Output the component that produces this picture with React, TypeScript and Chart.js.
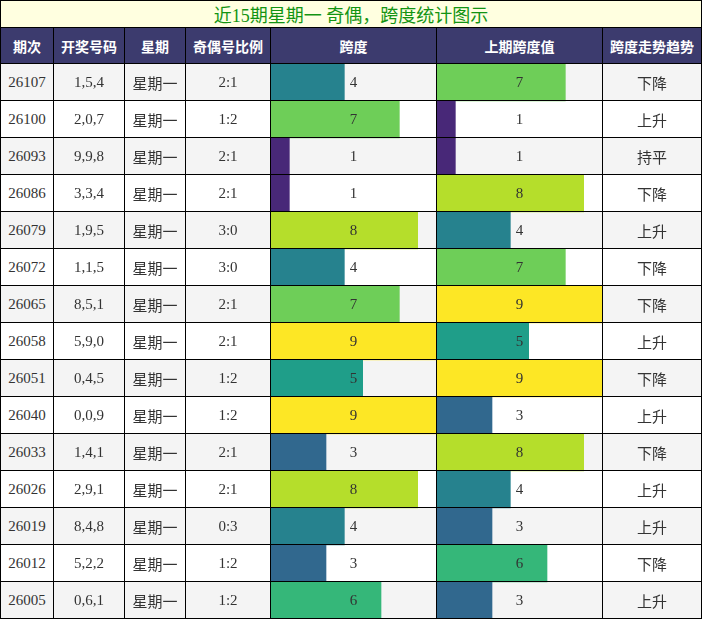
import React, { useEffect, useRef } from "react";
import { Chart, registerables } from "chart.js";

Chart.register(...registerables);

const title = "近15期星期一 奇偶，跨度统计图示";
const headers = ["期次", "开奖号码", "星期", "奇偶号比例", "跨度", "上期跨度值", "跨度走势趋势"];
const issues = ["26107", "26100", "26093", "26086", "26079", "26072", "26065", "26058", "26051", "26040", "26033", "26026", "26019", "26012", "26005"];
const numbers = ["1,5,4", "2,0,7", "9,9,8", "3,3,4", "1,9,5", "1,1,5", "8,5,1", "5,9,0", "0,4,5", "0,0,9", "1,4,1", "2,9,1", "8,4,8", "5,2,2", "0,6,1"];
const weekdays = ["星期一", "星期一", "星期一", "星期一", "星期一", "星期一", "星期一", "星期一", "星期一", "星期一", "星期一", "星期一", "星期一", "星期一", "星期一"];
const oddEven = ["2:1", "1:2", "2:1", "2:1", "3:0", "3:0", "2:1", "2:1", "1:2", "1:2", "2:1", "2:1", "0:3", "1:2", "1:2"];
const spans = [4, 7, 1, 1, 8, 4, 7, 9, 5, 9, 3, 8, 4, 3, 6];
const prevSpans = [7, 1, 1, 8, 4, 7, 9, 5, 9, 3, 8, 4, 3, 6, 3];
const trends = ["下降", "上升", "持平", "下降", "上升", "下降", "下降", "上升", "下降", "上升", "下降", "上升", "上升", "下降", "上升"];
const spanMax = 9;

// styles
const PALETTE = ["#440154", "#482878", "#3e4a89", "#31688e", "#26828e", "#1f9e89", "#35b779", "#6ece58", "#b5de2b", "#fde725"];
const COL_EDGES = [0, 54, 125, 186, 271, 437, 603, 702];
const TITLE_H = 28;
const HEADER_H = 36;
const ROW_H = 37;
const LINE = "#000";
const STRIPE = "#f4f4f4";
const HEADER_BG = "#3c3b6e";
const TITLE_BG = "#ffffe0";
const TEXT = "#333";
const FONT = '"Liberation Serif", "Noto Sans CJK SC", serif';
const HEADER_FONT = '"Noto Sans CJK SC", "Noto Sans", sans-serif';

function BarColumn({ values }: { values: number[] }) {
  const ref = useRef<HTMLCanvasElement | null>(null);
  useEffect(() => {
    if (!ref.current) return;
    const stripePlugin = {
      id: "stripes",
      beforeDatasetsDraw(chart: any) {
        const { ctx, chartArea } = chart;
        const meta = chart.getDatasetMeta(0);
        ctx.save();
        meta.data.forEach((bar: any, i: number) => {
          const h = bar.height;
          ctx.fillStyle = i % 2 === 0 ? STRIPE : "#ffffff";
          ctx.fillRect(chartArea.left, bar.y - h / 2, chartArea.right - chartArea.left, h);
        });
        ctx.restore();
      },
    };
    const labelPlugin = {
      id: "valueLabels",
      afterDatasetsDraw(chart: any) {
        const { ctx, chartArea } = chart;
        const meta = chart.getDatasetMeta(0);
        const ds = chart.data.datasets[0].data as number[];
        ctx.save();
        ctx.font = `15px ${FONT}`;
        ctx.fillStyle = TEXT;
        ctx.textAlign = "center";
        ctx.textBaseline = "middle";
        meta.data.forEach((bar: any, i: number) => {
          ctx.fillText(String(ds[i]), (chartArea.left + chartArea.right) / 2, bar.y + 1);
        });
        ctx.restore();
      },
    };
    const chart = new Chart(ref.current, {
      type: "bar",
      data: {
        labels: issues,
        datasets: [
          {
            data: values,
            backgroundColor: values.map((v) => PALETTE[v]),
            borderWidth: 0,
            categoryPercentage: 1,
            barPercentage: 1,
          },
        ],
      },
      options: {
        indexAxis: "y",
        animation: false,
        responsive: false,
        maintainAspectRatio: false,
        events: [],
        layout: { padding: 0 },
        plugins: { legend: { display: false }, tooltip: { enabled: false } },
        scales: {
          x: { display: false, min: 0, max: spanMax },
          y: { display: false },
        },
      },
      plugins: [stripePlugin, labelPlugin],
    } as any);
    return () => chart.destroy();
  }, [values]);
  const w = 0;
  return <canvas ref={ref} width={165} height={issues.length * ROW_H} style={{ display: "block" }} />;
}

export default function App() {
  const total = TITLE_H + HEADER_H + ROW_H * issues.length;
  const cells: React.ReactNode[] = [];
  const textCols = [issues, numbers, weekdays, oddEven];
  const bodyTop = TITLE_H + HEADER_H;

  const cellStyle = (c: number, top: number, h: number): React.CSSProperties => ({
    position: "absolute",
    left: COL_EDGES[c],
    top,
    width: COL_EDGES[c + 1] - COL_EDGES[c],
    height: h,
    boxSizing: "border-box",
    borderRight: `1px solid ${LINE}`,
    borderBottom: `1px solid ${LINE}`,
    borderLeft: c === 0 ? `1px solid ${LINE}` : undefined,
    display: "flex",
    alignItems: "center",
    justifyContent: "center",
    zIndex: 2,
  });

  headers.forEach((h, c) => {
    cells.push(
      <div
        key={`h${c}`}
        style={{
          ...cellStyle(c, TITLE_H, HEADER_H),
          background: HEADER_BG,
          color: "#fff",
          fontWeight: "bold",
          fontSize: 14,
          fontFamily: HEADER_FONT,
        }}
      >
        {h}
      </div>
    );
  });

  issues.forEach((_, r) => {
    const top = bodyTop + r * ROW_H;
    const bg = r % 2 === 0 ? STRIPE : "#ffffff";
    for (let c = 0; c < 7; c++) {
      let content: string = "";
      let background: string = bg;
      if (c < 4) content = textCols[c][r];
      else if (c === 6) content = trends[r];
      else background = "transparent";
      cells.push(
        <div
          key={`r${r}c${c}`}
          style={{
            ...cellStyle(c, top, ROW_H),
            background,
            color: TEXT,
            fontSize: 15,
            fontFamily: FONT,
            paddingTop: 1,
          }}
        >
          {content}
        </div>
      );
    }
  });

  return (
    <div
      style={{
        position: "fixed",
        left: 0,
        top: 0,
        width: 702,
        height: total,
        background: "#fff",
        overflow: "hidden",
      }}
    >
      <div
        style={{
          position: "absolute",
          left: 0,
          top: 0,
          width: 702,
          height: TITLE_H,
          boxSizing: "border-box",
          border: `1px solid ${LINE}`,
          background: TITLE_BG,
          color: "#129412",
          fontSize: 18,
          fontFamily: FONT,
          display: "flex",
          alignItems: "center",
          justifyContent: "center",
          zIndex: 2,
        }}
      >
        {title}
      </div>
      {cells}
      <div style={{ position: "absolute", left: COL_EDGES[4], top: bodyTop, zIndex: 1 }}>
        <BarColumn values={spans} />
      </div>
      <div style={{ position: "absolute", left: COL_EDGES[5], top: bodyTop, zIndex: 1 }}>
        <BarColumn values={prevSpans} />
      </div>
    </div>
  );
}
